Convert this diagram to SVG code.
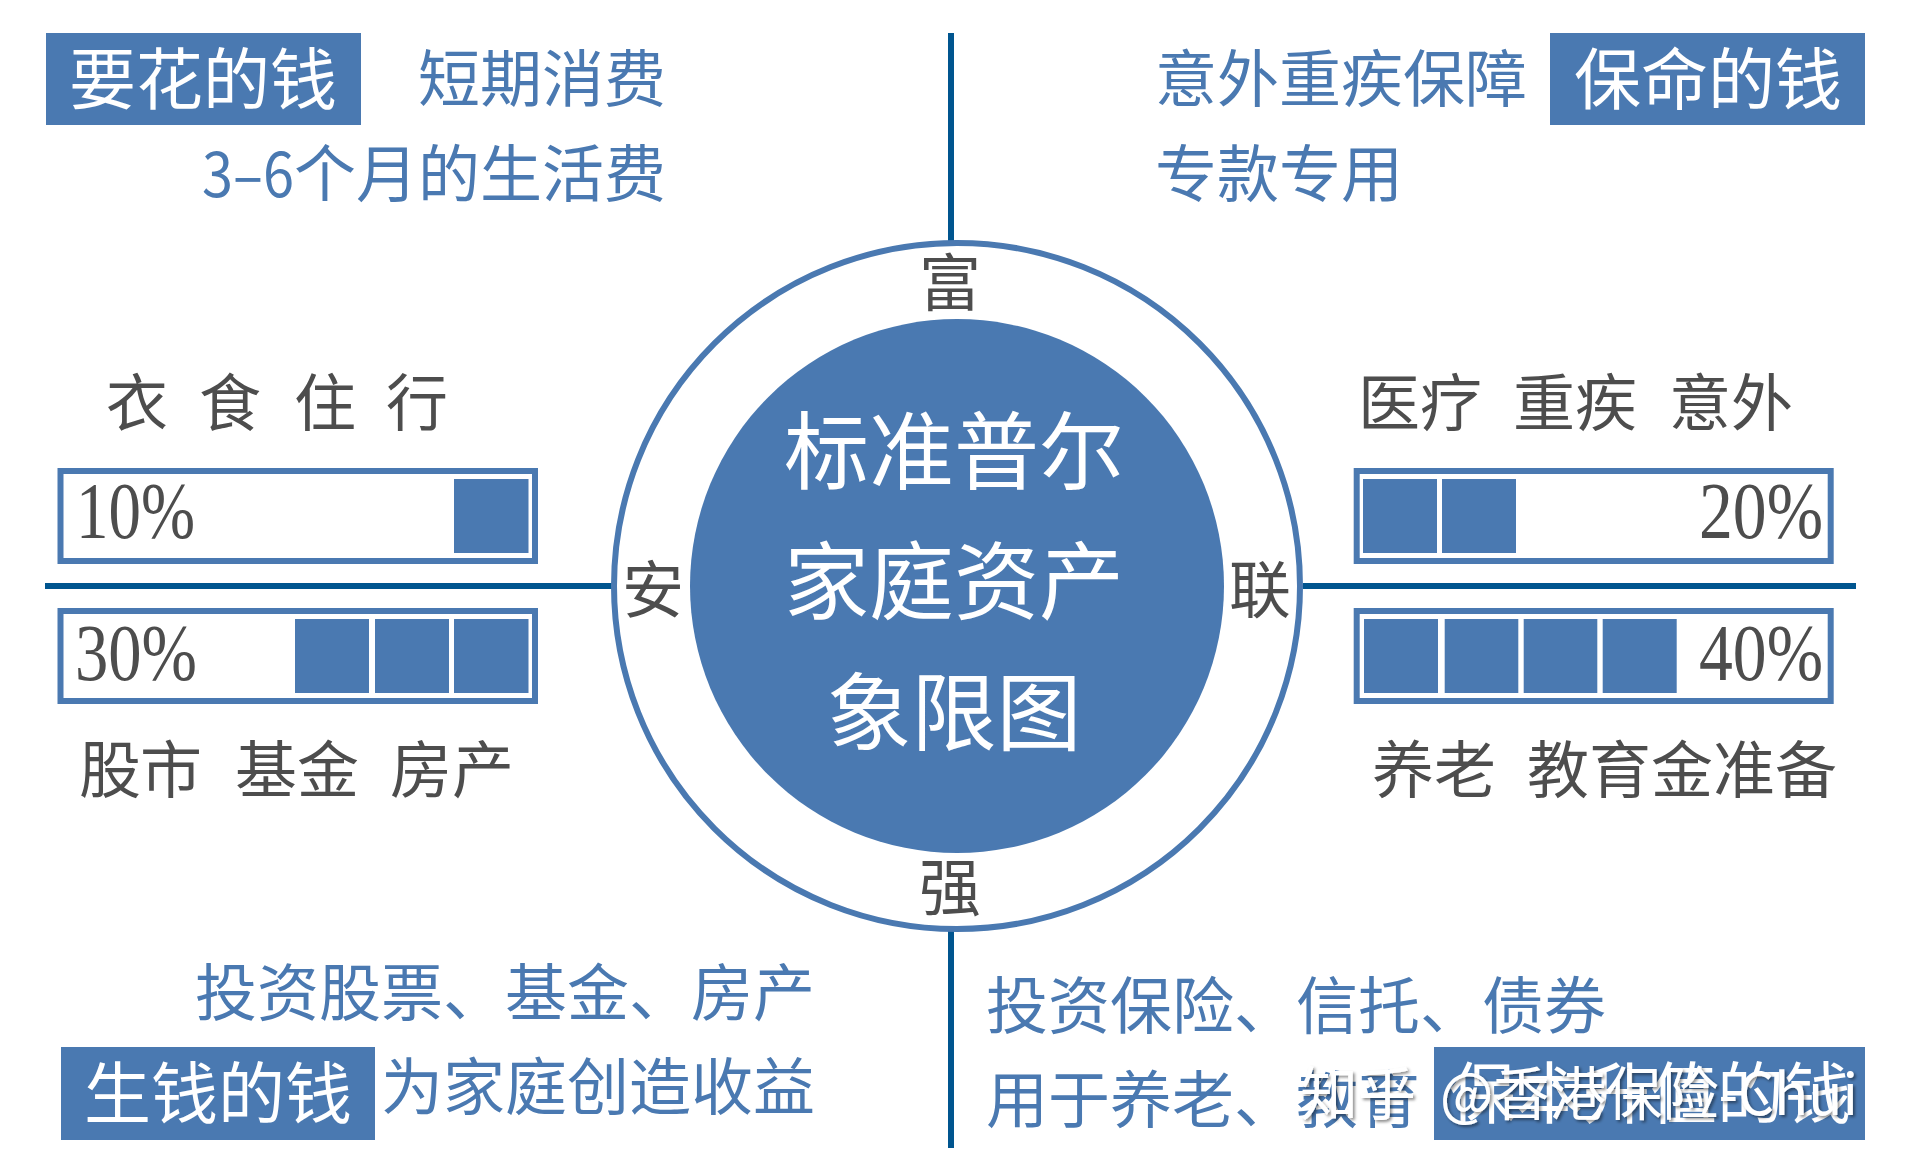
<svg xmlns="http://www.w3.org/2000/svg" width="1911" height="1173" viewBox="0 0 1911 1173">
<style>
text{font-family:"Noto Sans CJK SC","Noto Sans",sans-serif;font-weight:400}
.b{fill:#4a79b1;font-size:62px}
.g{fill:#4d4d4d;font-size:62px}
.w{fill:#fff;font-size:67px}
.c{fill:#fff;font-size:85px;text-anchor:middle}
.m{text-anchor:middle}
.e{text-anchor:end}
.p{font-family:"Liberation Serif",serif;font-size:80px;fill:#4d4d4d}
.box{fill:#4a79b1}
.bar{fill:#fff;stroke:#4a79b1;stroke-width:6}
.ax{stroke:#00558f;stroke-width:6;fill:none}
</style>
<defs><filter id="sh" x="-5%" y="-20%" width="110%" height="140%"><feDropShadow dx="2" dy="2" stdDeviation="1.5" flood-color="#000" flood-opacity=".45"/></filter></defs>
<rect width="1911" height="1173" fill="#fff"/>
<g id="connectors">
<path class="ax" d="M951 33V245M951 930V1148M45 586H612M1303 586H1856"/>
</g>
<g id="core">
<circle cx="957" cy="586" r="343" fill="#fff" stroke="#4a79b1" stroke-width="6"/>
<circle cx="957" cy="586" r="267" fill="#4a79b1"/>
<text class="c" x="954" y="483">标准普尔</text>
<text class="c" x="954" y="613">家庭资产</text>
<text class="c" x="954" y="744">象限图</text>
</g>
<g id="labels-ring">
<text class="g m" x="950" y="306">富</text>
<text class="g m" x="950" y="911">强</text>
<text class="g m" x="653" y="613">安</text>
<text class="g m" x="1260" y="613">联</text>
</g>
<g id="q-top-left">
<rect class="box" x="46" y="33" width="315" height="92"/>
<text class="w m" x="203" y="104">要花的钱</text>
<text class="b e" x="666" y="102">短期消费</text>
<text class="b" y="197"><tspan x="202" textLength="92" lengthAdjust="spacingAndGlyphs">3–6</tspan><tspan x="294">个月的生活费</tspan></text>
</g>
<g id="q-top-right">
<rect class="box" x="1550" y="33" width="315" height="92"/>
<text class="w m" x="1708" y="104">保命的钱</text>
<text class="b" x="1155" y="102">意外重疾保障</text>
<text class="b" x="1155" y="197">专款专用</text>
</g>
<g id="q-bottom-left">
<rect class="box" x="61" y="1047" width="314" height="93"/>
<text class="w m" x="218" y="1118">生钱的钱</text>
<text class="b e" x="815" y="1016">投资股票、基金、房产</text>
<text class="b e" x="815" y="1110">为家庭创造收益</text>
</g>
<g id="q-bottom-right">
<rect class="box" x="1434" y="1047" width="431" height="93"/>
<text class="w m" x="1650" y="1118">保本升值的钱</text>
<text class="b" x="986" y="1029">投资保险、信托、债券</text>
<text class="b" x="986" y="1123">用于养老、教育</text>
</g>
<g id="bar-left-top">
<text class="g" x="106 199 294 386" y="426">衣食住行</text>
<rect class="bar" x="60.500" y="471" width="474.500" height="90"/>
<rect class="box" x="454" y="479" width="74.500" height="74"/>
<text class="p" x="76" y="538" textLength="119" lengthAdjust="spacingAndGlyphs">10%</text>
</g>
<g id="bar-left-bottom">
<rect class="bar" x="60.500" y="611" width="474.500" height="90"/>
<rect class="box" x="295" y="619" width="74" height="74"/>
<rect class="box" x="375" y="619" width="74" height="74"/>
<rect class="box" x="454" y="619" width="74.500" height="74"/>
<text class="p" x="75" y="680" textLength="122" lengthAdjust="spacingAndGlyphs">30%</text>
<text class="g" x="79 140 235 297 390 452" y="793">股市基金房产</text>
</g>
<g id="bar-right-top">
<text class="g" x="1358 1420 1513 1575 1669 1731" y="426">医疗重疾意外</text>
<rect class="bar" x="1356.700" y="471" width="474" height="90"/>
<rect class="box" x="1363" y="479" width="74" height="74"/>
<rect class="box" x="1442" y="479" width="74" height="74"/>
<text class="p" x="1699" y="538" textLength="124" lengthAdjust="spacingAndGlyphs">20%</text>
</g>
<g id="bar-right-bottom">
<rect class="bar" x="1356.700" y="611" width="474" height="90"/>
<rect class="box" x="1364" y="619" width="74" height="74"/>
<rect class="box" x="1444.700" y="619" width="73.600" height="74"/>
<rect class="box" x="1523.700" y="619" width="73.600" height="74"/>
<rect class="box" x="1602.700" y="619" width="74" height="74"/>
<text class="p" x="1699" y="680" textLength="124" lengthAdjust="spacingAndGlyphs">40%</text>
<text class="g" x="1372 1434 1527 1589 1651 1713 1775" y="793">养老教育金准备</text>
</g>
<text id="watermark" filter="url(#sh)" fill="#fff" font-size="58" y="1115"><tspan x="1300">知乎</tspan><tspan x="1440" textLength="418" lengthAdjust="spacingAndGlyphs">@香港保险-Chui</tspan></text>
</svg>
